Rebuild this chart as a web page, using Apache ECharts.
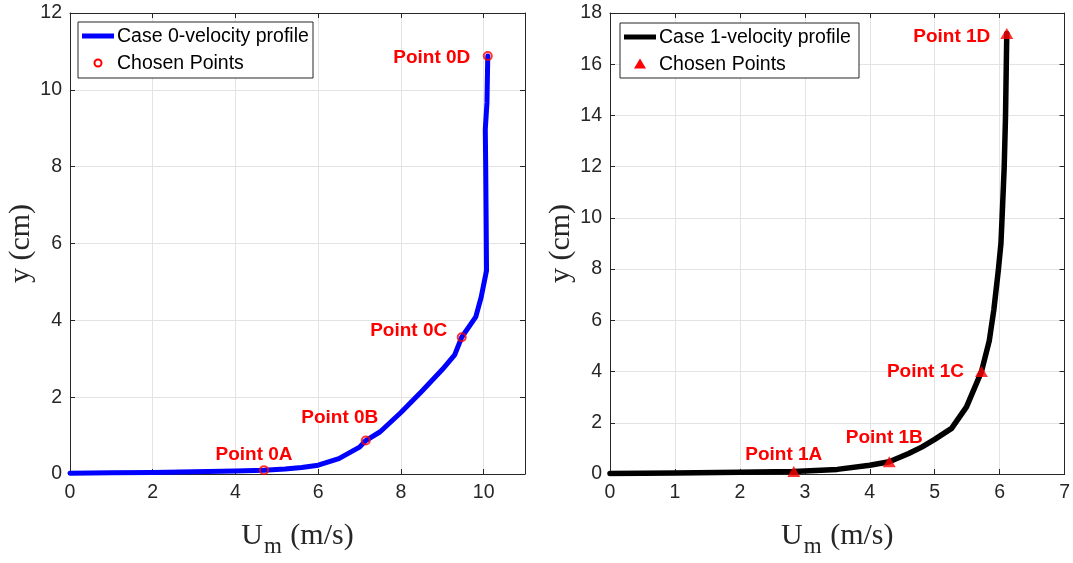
<!DOCTYPE html>
<html>
<head>
<meta charset="utf-8">
<script src="https://cdn.jsdelivr.net/npm/echarts@6/dist/echarts.min.js"></script>
<style>
  html, body { margin: 0; padding: 0; background: #fff; }
  #chart { width: 1073px; height: 563px; }
</style>
</head>
<body>
<div id="chart"></div>
<script>
// Case 0: mean velocity profile (U_m in m/s, y in cm)
const case0U = [0, 1, 2, 3, 4, 4.69, 5.2, 5.6, 6.0, 6.5, 7.0, 7.15, 7.5, 8.0, 8.5, 9.0, 9.3, 9.47, 9.81, 9.94, 10.07, 10.06, 10.05, 10.04, 10.08, 10.1];
const case0Y = [0.02, 0.03, 0.04, 0.06, 0.08, 0.1, 0.13, 0.17, 0.23, 0.4, 0.7, 0.87, 1.1, 1.6, 2.15, 2.72, 3.1, 3.56, 4.09, 4.6, 5.3, 6.7, 8.0, 8.97, 9.66, 10.88];
// Case 0: chosen points
const case0PtNames = ['Point 0A', 'Point 0B', 'Point 0C', 'Point 0D'];
const case0PtU = [4.69, 7.15, 9.47, 10.1];
const case0PtY = [0.1, 0.87, 3.56, 10.88];

// Case 1: mean velocity profile
const case1U = [0, 1, 2, 2.83, 3.5, 4.0, 4.3, 4.6, 4.8, 5.0, 5.26, 5.49, 5.64, 5.72, 5.84, 5.91, 5.98, 6.02, 6.04, 6.07, 6.09, 6.11];
const case1Y = [0.02, 0.04, 0.07, 0.1, 0.18, 0.34, 0.48, 0.8, 1.05, 1.35, 1.78, 2.62, 3.52, 4.0, 5.2, 6.4, 7.96, 9.0, 10.15, 11.96, 13.9, 17.2];
// Case 1: chosen points
const case1PtNames = ['Point 1A', 'Point 1B', 'Point 1C', 'Point 1D'];
const case1PtU = [2.83, 4.3, 5.72, 6.11];
const case1PtY = [0.1, 0.48, 4.0, 17.2];

// Axis ranges [min, max, interval]
const xRange0 = [0, 11, 2];
const yRange0 = [0, 12, 2];
const xRange1 = [0, 7, 1];
const yRange1 = [0, 18, 2];

// Label offsets (px) of the point annotations, relative to each marker
const labelOffsets0 = [[-10, -15], [-26, -23], [-53, -6], [-56, 2]];
const labelOffsets1 = [[-10, -17], [-5, -24], [-56, 0], [-55, 3]];

const SANS = "'Liberation Sans', Arial, Helvetica, sans-serif";
const SERIF = "'Liberation Serif', 'Times New Roman', serif";
const AX = '#262626';
const GRIDC = '#e3e3e3';

function pairs(xs, ys) { return xs.map((x, i) => [x, ys[i]]); }

function pointData(names, xs, ys, offs) {
  return names.map((n, i) => ({
    name: n,
    value: [xs[i], ys[i]],
    label: { show: true, formatter: n, position: 'inside', offset: offs[i] }
  }));
}

function mainX(gridIndex, r) {
  return {
    type: 'value', gridIndex, position: 'bottom', min: r[0], max: r[1], interval: r[2],
    axisLine: { show: true, onZero: false, lineStyle: { color: AX, width: 1 } },
    axisTick: { show: true, inside: true, length: 5, lineStyle: { color: AX } },
    axisLabel: {
      color: AX, fontFamily: SANS, fontSize: 19.5, margin: 9,
      formatter: v => (Math.abs(v / r[2] - Math.round(v / r[2])) < 1e-9 ? String(v) : '')
    },
    splitLine: { show: true, lineStyle: { color: GRIDC, width: 1 } },
    name: '{u|U}{s|m}{u| (m/s)}',
    nameLocation: 'middle',
    nameGap: 47,
    nameTextStyle: {
      rich: {
        u: { fontFamily: SERIF, fontSize: 30, color: AX, lineHeight: 32, verticalAlign: 'top' },
        s: { fontFamily: SERIF, fontSize: 23, color: AX, lineHeight: 25, verticalAlign: 'top', padding: [14, 1, 0, 1] }
      }
    }
  };
}
function sideX(gridIndex, r) {
  return {
    type: 'value', gridIndex, position: 'top', min: r[0], max: r[1], interval: r[2],
    axisLine: { show: true, onZero: false, lineStyle: { color: AX, width: 1 } },
    axisTick: { show: true, inside: true, length: 5, lineStyle: { color: AX } },
    axisLabel: { show: false }, splitLine: { show: false }
  };
}
function mainY(gridIndex, r) {
  return {
    type: 'value', gridIndex, position: 'left', min: r[0], max: r[1], interval: r[2],
    axisLine: { show: true, onZero: false, lineStyle: { color: AX, width: 1 } },
    axisTick: { show: true, inside: true, length: 5, lineStyle: { color: AX } },
    axisLabel: { color: AX, fontFamily: SANS, fontSize: 19.5, margin: 8 },
    splitLine: { show: true, lineStyle: { color: GRIDC, width: 1 } },
    name: 'y (cm)',
    nameLocation: 'middle',
    nameGap: 32,
    nameRotate: 90,
    nameTextStyle: { fontFamily: SERIF, fontSize: 30, color: AX }
  };
}
function sideY(gridIndex, r) {
  return {
    type: 'value', gridIndex, position: 'right', min: r[0], max: r[1], interval: r[2],
    axisLine: { show: true, onZero: false, lineStyle: { color: AX, width: 1 } },
    axisTick: { show: true, inside: true, length: 5, lineStyle: { color: AX } },
    axisLabel: { show: false }, splitLine: { show: false }
  };
}

const pointLabelStyle = {
  color: '#ff0000', fontFamily: SANS, fontSize: 19, fontWeight: 'bold',
  textBorderWidth: 0, textBorderColor: 'transparent', textShadowBlur: 0, opacity: 1
};

function legendBox(x, y, w, h, lineColor, lineText, marker) {
  const cy1 = y + 14, cy2 = y + 41;
  return [
    { type: 'rect', shape: { x: x, y: y, width: w, height: h }, style: { fill: '#fff', stroke: AX, lineWidth: 1 }, z: 100 },
    { type: 'line', shape: { x1: x + 4, y1: cy1, x2: x + 36, y2: cy1 }, style: { stroke: lineColor, lineWidth: 5 }, z: 101 },
    { type: 'text', x: x + 39, y: cy1 + 1, style: { text: lineText, font: '19.5px ' + SANS, fill: '#000', verticalAlign: 'middle' }, z: 101 },
    marker(x + 20, cy2),
    { type: 'text', x: x + 39, y: cy2 + 1, style: { text: 'Chosen Points', font: '19.5px ' + SANS, fill: '#000', verticalAlign: 'middle' }, z: 101 }
  ];
}

const option = {
  backgroundColor: '#fff',
  animation: false,
  grid: [
    { left: 70, top: 13, width: 455, height: 466 },
    { left: 610, top: 13, width: 455, height: 466 }
  ],
  xAxis: [mainX(0, xRange0), sideX(0, xRange0), mainX(1, xRange1), sideX(1, xRange1)],
  yAxis: [mainY(0, yRange0), sideY(0, yRange0), mainY(1, yRange1), sideY(1, yRange1)],
  series: [
    {
      name: 'Case 0-velocity profile', type: 'line', xAxisIndex: 0, yAxisIndex: 0,
      data: pairs(case0U, case0Y), symbol: 'none', smooth: false,
      lineStyle: { color: '#0000ff', width: 5, join: 'round', cap: 'round' }, z: 2
    },
    {
      name: 'Chosen Points', type: 'scatter', xAxisIndex: 0, yAxisIndex: 0,
      data: pointData(case0PtNames, case0PtU, case0PtY, labelOffsets0),
      symbol: 'circle', symbolSize: 8,
      itemStyle: { color: 'rgba(0,0,0,0)', borderColor: '#ff0000', borderWidth: 2 },
      label: pointLabelStyle, z: 3
    },
    {
      name: 'Case 1-velocity profile', type: 'line', xAxisIndex: 2, yAxisIndex: 2,
      data: pairs(case1U, case1Y), symbol: 'none', smooth: false,
      lineStyle: { color: '#000000', width: 5.5, join: 'round', cap: 'round' }, z: 2
    },
    {
      name: 'Chosen Points 1', type: 'scatter', xAxisIndex: 2, yAxisIndex: 2,
      data: pointData(case1PtNames, case1PtU, case1PtY, labelOffsets1),
      symbol: 'triangle', symbolSize: [13, 11],
      itemStyle: { color: '#ff0000' },
      label: pointLabelStyle, z: 3
    }
  ],
  graphic: [
    ...legendBox(78, 22, 235, 56, '#0000ff', 'Case 0-velocity profile',
      (cx, cy) => ({ type: 'circle', shape: { cx: cx, cy: cy, r: 3.5 }, style: { fill: 'none', stroke: '#ff0000', lineWidth: 2 }, z: 101 })),
    ...legendBox(620, 23, 239, 55, '#000000', 'Case 1-velocity profile',
      (cx, cy) => ({ type: 'polygon', shape: { points: [[cx, cy - 5.5], [cx + 6, cy + 4.5], [cx - 6, cy + 4.5]] }, style: { fill: '#ff0000' }, z: 101 }))
  ]
};

const chart = echarts.init(document.getElementById('chart'), null, { renderer: 'canvas' });
chart.setOption(option);
</script>
</body>
</html>
